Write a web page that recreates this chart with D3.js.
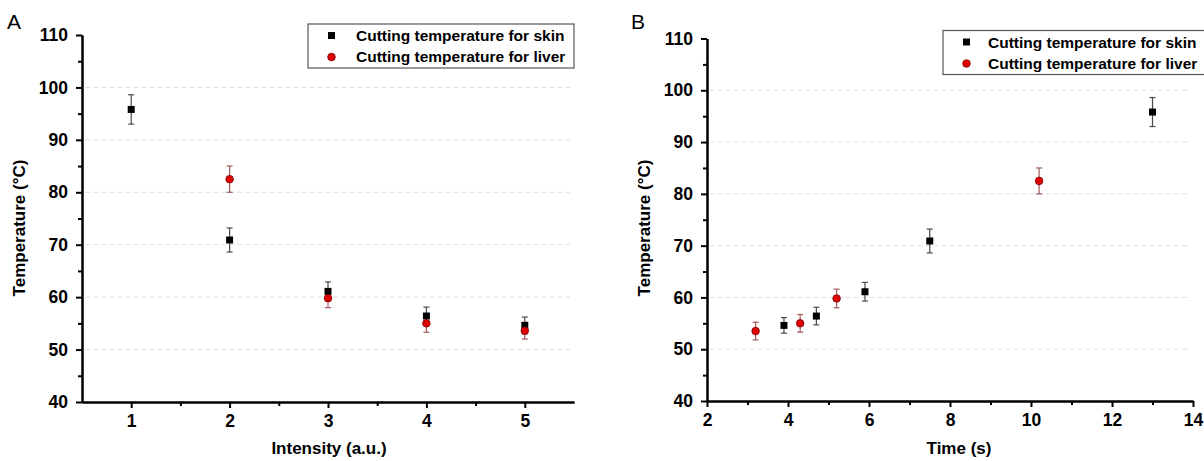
<!DOCTYPE html>
<html lang="en">
    <head>
        <meta charset="utf-8">
        <title>Cutting temperature</title>
        <script type="text/javascript" src="https://d3js.org/d3.v7.min.js"></script>
        <style>
          body { margin: 0; background: #fff; }
          svg { font-family: "Liberation Sans", Arial, sans-serif; }
          .tick text { font-weight: bold; font-size: 17.5px; }
          .axis path, .axis line { stroke: #000; stroke-width: 2; }
          .grid { stroke: #e0e0e0; stroke-width: 1; stroke-dasharray: 5,3; }
          .lab { font-weight: bold; font-size: 17px; }
          .leg { font-weight: bold; font-size: 15.5px; }
        </style>
    </head>
    <body>
        <script type="text/javascript">
            // panel A: temperature vs intensity
            const intensity_skin = [1, 2, 3, 4, 5]
            const temp_skin_a = [95.8, 70.9, 61.1, 56.4, 54.6]
            const err_skin_a = [2.8, 2.3, 1.8, 1.7, 1.6]
            const intensity_liver = [2, 3, 4, 5]
            const temp_liver_a = [82.5, 59.8, 55.0, 53.6]
            const err_liver_a = [2.5, 1.8, 1.7, 1.6]

            // panel B: temperature vs time
            const time_skin = [3.9, 4.7, 5.9, 7.5, 13.0]
            const temp_skin_b = [54.6, 56.4, 61.1, 70.9, 95.8]
            const err_skin_b = [1.5, 1.7, 1.8, 2.3, 2.8]
            const time_liver = [3.2, 4.3, 5.2, 10.2]
            const temp_liver_b = [53.5, 55.0, 59.8, 82.5]
            const err_liver_b = [1.7, 1.7, 1.8, 2.5]

            const y_ticks = [40, 50, 60, 70, 80, 90, 100, 110]
            const y_minor = [45, 55, 65, 75, 85, 95, 105]
            const grid_vals = [50, 60, 70, 80, 90, 100]
            const x_ticks_a = [1, 2, 3, 4, 5]
            const x_minor_a = [1.5, 2.5, 3.5, 4.5]
            const x_ticks_b = [2, 4, 6, 8, 10, 12, 14]
            const x_minor_b = [3, 5, 7, 9, 11, 13]
            const legend_labels = ["Cutting temperature for skin", "Cutting temperature for liver"]

            const w = 1204
            const h = 461

            const svg = d3.select("body")
                          .append("svg")
                          .attr("width", w)
                          .attr("height", h)

            function drawPanel(p) {
                const x = d3.scaleLinear().domain(p.xdomain).range([p.left, p.right])
                const y = d3.scaleLinear().domain([40, 110]).range([p.bottom, p.top])
                const g = svg.append("g")

                // dashed grid
                g.selectAll("line.grid")
                 .data(grid_vals)
                 .enter()
                 .append("line")
                 .attr("class", "grid")
                 .attr("x1", p.left + 3)
                 .attr("x2", p.gridEnd)
                 .attr("y1", d => y(d))
                 .attr("y2", d => y(d))

                // minor ticks first, then major ticks with labels
                g.append("g").attr("class", "axis")
                 .attr("transform", `translate(${p.left},0)`)
                 .call(d3.axisLeft(y).tickValues(y_minor).tickSize(4).tickSizeOuter(0).tickFormat(""))
                g.append("g").attr("class", "axis")
                 .attr("transform", `translate(${p.left},0)`)
                 .call(d3.axisLeft(y).tickValues(y_ticks).tickSize(6).tickSizeOuter(0).tickPadding(8))
                g.append("g").attr("class", "axis")
                 .attr("transform", `translate(0,${p.bottom})`)
                 .call(d3.axisBottom(x).tickValues(p.xminor).tickSize(4).tickSizeOuter(0).tickFormat(""))
                g.append("g").attr("class", "axis")
                 .attr("transform", `translate(0,${p.bottom})`)
                 .call(d3.axisBottom(x).tickValues(p.xticks).tickSize(6).tickSizeOuter(0)
                         .tickPadding(7).tickFormat(d3.format("d")))
                g.selectAll(".axis .tick text").attr("fill", "#000")

                // error bars
                const series = [
                    {xs: p.skinX, ys: p.skinY, es: p.skinE, col: "#4a4a4a"},
                    {xs: p.liverX, ys: p.liverY, es: p.liverE, col: "#a05a5a"}
                ]
                series.forEach(s => {
                    const pts = s.xs.map((d, i) => ({x: d, y: s.ys[i], e: s.es[i]}))
                    const eb = g.append("g").attr("stroke", s.col).attr("stroke-width", 1.2)
                    eb.selectAll("line.v").data(pts).enter().append("line")
                      .attr("x1", d => x(d.x)).attr("x2", d => x(d.x))
                      .attr("y1", d => y(d.y + d.e)).attr("y2", d => y(d.y - d.e))
                    eb.selectAll("line.t").data(pts).enter().append("line")
                      .attr("x1", d => x(d.x) - 3).attr("x2", d => x(d.x) + 3)
                      .attr("y1", d => y(d.y + d.e)).attr("y2", d => y(d.y + d.e))
                    eb.selectAll("line.b").data(pts).enter().append("line")
                      .attr("x1", d => x(d.x) - 3).attr("x2", d => x(d.x) + 3)
                      .attr("y1", d => y(d.y - d.e)).attr("y2", d => y(d.y - d.e))
                })

                // markers: squares for skin, circles for liver
                g.selectAll("rect.skin")
                 .data(p.skinX.map((d, i) => [d, p.skinY[i]]))
                 .enter()
                 .append("rect")
                 .attr("x", d => x(d[0]) - 3.5)
                 .attr("y", d => y(d[1]) - 3.5)
                 .attr("width", 7)
                 .attr("height", 7)
                 .attr("fill", "#000")
                g.selectAll("circle.liver")
                 .data(p.liverX.map((d, i) => [d, p.liverY[i]]))
                 .enter()
                 .append("circle")
                 .attr("cx", d => x(d[0]))
                 .attr("cy", d => y(d[1]))
                 .attr("r", 3.8)
                 .attr("fill", "#e00000")
                 .attr("stroke", "#7a0000")
                 .attr("stroke-width", 0.8)

                // axis titles and panel letter
                g.append("text").attr("class", "lab")
                 .attr("transform", `translate(${p.ylabX},228) rotate(-90)`)
                 .attr("text-anchor", "middle")
                 .text("Temperature (°C)")
                g.append("text").attr("class", "lab")
                 .attr("x", p.xlabX).attr("y", 454)
                 .attr("text-anchor", "middle")
                 .text(p.xlabel)
                g.append("text")
                 .attr("x", p.letterX).attr("y", 29)
                 .attr("font-size", 21)
                 .text(p.letter)

                // legend
                const lg = g.append("g")
                lg.append("rect")
                  .attr("x", p.legX).attr("y", p.legY)
                  .attr("width", p.legW).attr("height", 44)
                  .attr("fill", "#fff").attr("stroke", "#555").attr("stroke-width", 1.2)
                lg.append("rect")
                  .attr("x", p.legX + 20).attr("y", p.legY + 8)
                  .attr("width", 7).attr("height", 7).attr("fill", "#000")
                lg.append("circle")
                  .attr("cx", p.legX + 23.5).attr("cy", p.legY + 33)
                  .attr("r", 3.8).attr("fill", "#e00000")
                  .attr("stroke", "#7a0000").attr("stroke-width", 0.8)
                lg.selectAll("text.leg")
                  .data(legend_labels)
                  .enter()
                  .append("text")
                  .attr("class", "leg")
                  .attr("x", p.legX + p.legText)
                  .attr("y", (d, i) => p.legY + 17 + i * 21)
                  .text(d => d)
            }

            drawPanel({
                letter: "A", letterX: 7, xlabel: "Intensity (a.u.)", xlabX: 329, ylabX: 25,
                xdomain: [0.5, 5.5], left: 82, right: 574, top: 35, bottom: 402, gridEnd: 571,
                xticks: x_ticks_a, xminor: x_minor_a,
                skinX: intensity_skin, skinY: temp_skin_a, skinE: err_skin_a,
                liverX: intensity_liver, liverY: temp_liver_a, liverE: err_liver_a,
                legX: 308, legY: 24, legW: 266, legText: 48
            })

            drawPanel({
                letter: "B", letterX: 631, xlabel: "Time (s)", xlabX: 959, ylabX: 650,
                xdomain: [2, 14], left: 707, right: 1193, top: 38.5, bottom: 401, gridEnd: 1190,
                xticks: x_ticks_b, xminor: x_minor_b,
                skinX: time_skin, skinY: temp_skin_b, skinE: err_skin_b,
                liverX: time_liver, liverY: temp_liver_b, liverE: err_liver_b,
                legX: 943, legY: 30.5, legW: 266, legText: 45
            })
        </script>
    </body>
</html>
